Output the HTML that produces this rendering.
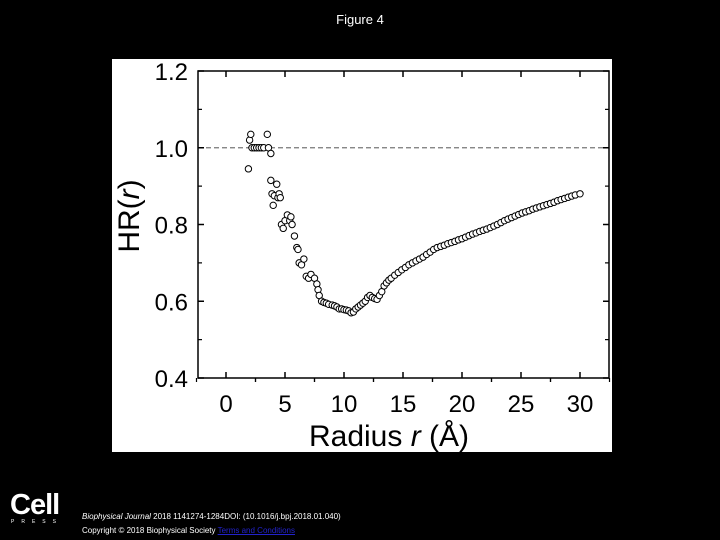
<!DOCTYPE html>
<html><head><meta charset="utf-8"><style>
html,body{margin:0;padding:0;background:#000;width:720px;height:540px;overflow:hidden;font-family:"Liberation Sans",sans-serif}
.t{position:absolute;color:#fff;font-size:12px}
</style></head><body>
<div class="t" style="left:0;width:720px;top:12px;text-align:center;font-size:13px">Figure 4</div>
<svg width="720" height="540" style="position:absolute;left:0;top:0">
<rect x="112" y="59" width="500" height="393" fill="#fff"/>
<g id="g"></g>
</svg>
<div class="t" style="left:10px;top:489px;font-size:29px;font-weight:bold;letter-spacing:-1px">Cell</div>
<div class="t" style="left:11px;top:519px;font-size:5px;letter-spacing:7px">PRESS</div>
<div class="t" style="left:82px;top:512px;font-size:8px"><i>Biophysical Journal</i> 2018 1141274-1284DOI: (10.1016/j.bpj.2018.01.040)</div>
<div class="t" style="left:82px;top:526px;font-size:8px">Copyright © 2018 Biophysical Society <span style="color:#22c;text-decoration:underline">Terms and Conditions</span></div>
<script>
const xTicks=[0,5,10,15,20,25,30];
const yTicks=[0.4,0.6,0.8,1.0,1.2];
const rVals=[1.9,2.0,2.1,2.2,2.4,2.6,2.8,3.0,3.2,3.5,3.6,3.8,3.8,3.9,4.0,4.1,4.3,4.4,4.5,4.6,4.7,4.85,5.0,5.2,5.4,5.5,5.6,5.8,6.0,6.1,6.2,6.4,6.6,6.8,7.0,7.2,7.5,7.7,7.8,7.9,8.1,8.3,8.5,8.7,9.0,9.2,9.4,9.6,9.8,10.0,10.2,10.4,10.6,10.8,11.0,11.2,11.4,11.6,11.8,12.0,12.2,12.4,12.6,12.8,13.0,13.2,13.4,13.6,13.8,14.0,14.3,14.6,14.9,15.2,15.5,15.8,16.1,16.4,16.7,17.0,17.3,17.6,17.9,18.2,18.5,18.8,19.1,19.4,19.7,20.0,20.3,20.6,20.9,21.2,21.5,21.8,22.1,22.4,22.7,23.0,23.3,23.6,23.9,24.2,24.5,24.8,25.1,25.4,25.7,26.0,26.3,26.6,26.9,27.2,27.5,27.8,28.1,28.4,28.7,29.0,29.3,29.6,30.0];
const hrVals=[0.945,1.02,1.035,1.0,1.0,1.0,1.0,1.0,1.0,1.035,1.0,0.985,0.915,0.88,0.85,0.875,0.905,0.87,0.88,0.87,0.80,0.79,0.81,0.825,0.81,0.82,0.80,0.77,0.74,0.735,0.70,0.695,0.71,0.665,0.66,0.67,0.66,0.645,0.63,0.615,0.60,0.597,0.595,0.592,0.59,0.588,0.585,0.58,0.58,0.578,0.577,0.575,0.57,0.572,0.58,0.585,0.59,0.595,0.60,0.61,0.615,0.61,0.607,0.605,0.615,0.625,0.64,0.648,0.655,0.66,0.668,0.675,0.682,0.688,0.695,0.70,0.705,0.71,0.715,0.722,0.728,0.735,0.74,0.743,0.746,0.75,0.753,0.756,0.76,0.763,0.767,0.771,0.775,0.778,0.782,0.785,0.788,0.792,0.796,0.80,0.805,0.81,0.814,0.818,0.822,0.826,0.83,0.833,0.836,0.84,0.843,0.846,0.849,0.852,0.855,0.858,0.862,0.865,0.868,0.871,0.874,0.877,0.88];
const X0=198,X1=609,Y0=71,Y1=378;
const xs=v=>226+v*(580-226)/30;
const ys=v=>Y1-(v-0.4)*(Y1-Y0)/0.8;
const NS='http://www.w3.org/2000/svg';
const g=document.getElementById('g');
function mk(t,a){const e=document.createElementNS(NS,t);for(const k in a)e.setAttribute(k,a[k]);g.appendChild(e);return e;}
let e=mk('line',{x1:X0,x2:X1,y1:ys(1.0),y2:ys(1.0),stroke:'#777','stroke-width':1.2,'stroke-dasharray':'5,3'});


e=mk('rect',{x:X0,y:Y0,width:X1-X0,height:Y1-Y0,fill:'none',stroke:'#000','stroke-width':1.5});


xTicks.forEach(v=>{
 mk('line',{x1:xs(v),x2:xs(v),y1:Y1,y2:Y1-6,stroke:'#000','stroke-width':1.5});
 mk('line',{x1:xs(v),x2:xs(v),y1:Y0,y2:Y0+6,stroke:'#000','stroke-width':1.5});
 mk('line',{x1:xs(v+2.5),x2:xs(v+2.5),y1:Y1,y2:Y1+4,stroke:'#000','stroke-width':1.2});
 mk('line',{x1:xs(v-2.5),x2:xs(v-2.5),y1:Y1,y2:Y1+4,stroke:'#000','stroke-width':1.2});
 const t=mk('text',{x:xs(v),y:412,'text-anchor':'middle','font-size':24,fill:'#000','font-family':'Liberation Sans'});
 t.textContent=v;
 
 
});
yTicks.forEach(v=>{
 mk('line',{x1:X0,x2:X0+6,y1:ys(v),y2:ys(v),stroke:'#000','stroke-width':1.5});
 mk('line',{x1:X1,x2:X1-6,y1:ys(v),y2:ys(v),stroke:'#000','stroke-width':1.5});
 if(v<1.2){mk('line',{x1:X0,x2:X0+4,y1:ys(v+0.1),y2:ys(v+0.1),stroke:'#000','stroke-width':1.2});
 mk('line',{x1:X1,x2:X1-4,y1:ys(v+0.1),y2:ys(v+0.1),stroke:'#000','stroke-width':1.2});}
 const t=mk('text',{x:188,y:ys(v)+9,'text-anchor':'end','font-size':24,fill:'#000','font-family':'Liberation Sans'});
 t.textContent=v.toFixed(1);
 
 
});
let t=mk('text',{x:389,y:446,'text-anchor':'middle','font-size':30,fill:'#000','font-family':'Liberation Sans'});
t.innerHTML='Radius <tspan font-style="italic">r</tspan> (Å)';


t=mk('text',{x:0,y:0,'text-anchor':'middle','font-size':30,fill:'#000','font-family':'Liberation Sans',transform:'translate(139,216) rotate(-90)'});
t.innerHTML='HR(<tspan font-style="italic">r</tspan>)';


rVals.forEach((r,i)=>{
 const c=mk('circle',{cx:xs(r),cy:ys(hrVals[i]),r:3.2,fill:'#fff',stroke:'#000','stroke-width':1});
 
 
});
</script>
</body></html>
